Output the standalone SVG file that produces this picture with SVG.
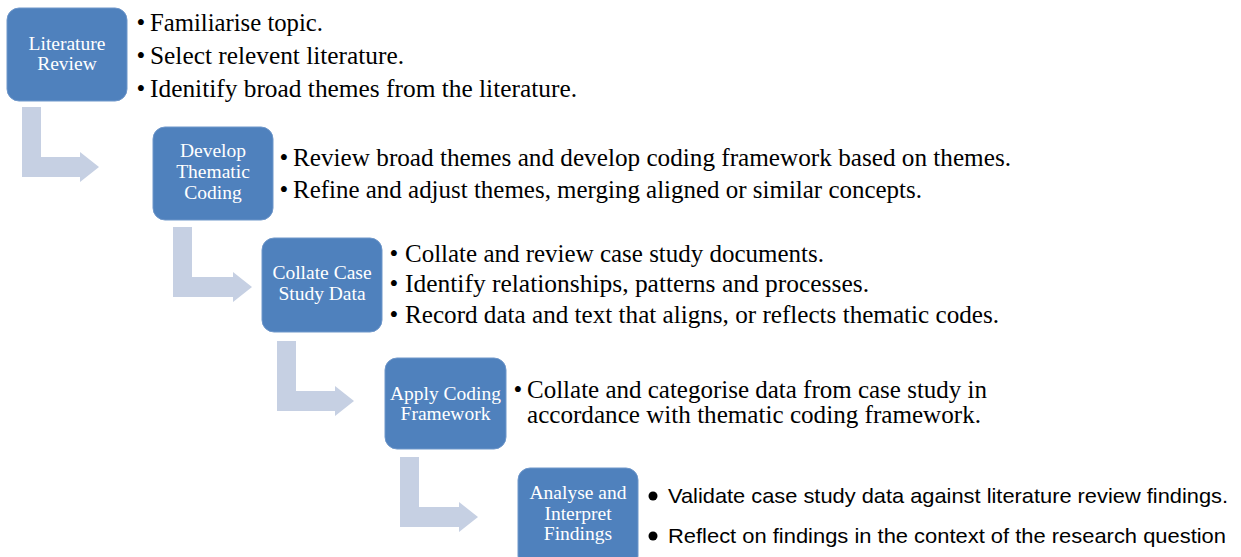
<svg xmlns="http://www.w3.org/2000/svg" width="1241" height="557" viewBox="0 0 1241 557">
  <style>
    .box { fill: #4F81BD; stroke: #6F97CA; stroke-width: 1; }
    .lbl { font-family: "Liberation Serif", "DejaVu Serif", serif; font-size: 19.5px; fill: #FFFFFF; text-anchor: middle; }
    .body { font-family: "Liberation Serif", "DejaVu Serif", serif; font-size: 25px; fill: #000000; }
    .bul { font-family: "Liberation Serif", "DejaVu Serif", serif; font-size: 25px; fill: #000000; text-anchor: middle; }
    .sans { font-family: "Liberation Sans", Arial, sans-serif; font-size: 21px; fill: #000000; }
    .arrow { fill: #C6D0E3; }
  </style>
  <rect width="1241" height="557" fill="#FFFFFF"/>

  <!-- bent arrows linking each step to the next -->
  <g id="connectors">
    <path class="arrow" d="M22,107 H41 V157 H80 V152 L99,167 L80,182 V177 H22 Z"/>
    <path class="arrow" d="M173,227 H192 V277 H233 V272 L252,287 L233,302 V297 H173 Z"/>
    <path class="arrow" d="M277,341 H296 V391 H335 V386 L354,401 L335,416 V411 H277 Z"/>
    <path class="arrow" d="M400,457 H419 V507 H459 V502 L478,517 L459,532 V527 H400 Z"/>
  </g>

  <g id="step-literature-review">
    <rect class="box" x="7" y="8" width="120" height="93" rx="12"/>
    <text class="lbl" x="67" y="50">Literature</text>
    <text class="lbl" x="67" y="70">Review</text>
    <text class="bul" x="141" y="31">•</text>
    <text class="body" x="150" y="31" textLength="173" lengthAdjust="spacingAndGlyphs">Familiarise topic.</text>
    <text class="bul" x="141" y="64">•</text>
    <text class="body" x="150" y="64" textLength="254" lengthAdjust="spacingAndGlyphs">Select relevent literature.</text>
    <text class="bul" x="141" y="97">•</text>
    <text class="body" x="150" y="97" textLength="427" lengthAdjust="spacingAndGlyphs">Idenitify broad themes from the literature.</text>
  </g>

  <g id="step-thematic-coding">
    <rect class="box" x="153" y="127" width="120" height="93" rx="12"/>
    <text class="lbl" x="213" y="157">Develop</text>
    <text class="lbl" x="213" y="178">Thematic</text>
    <text class="lbl" x="213" y="199">Coding</text>
    <text class="bul" x="284" y="166">•</text>
    <text class="body" x="293" y="166" textLength="718" lengthAdjust="spacingAndGlyphs">Review broad themes and develop coding framework based on themes.</text>
    <text class="bul" x="284" y="198">•</text>
    <text class="body" x="293" y="198" textLength="629" lengthAdjust="spacingAndGlyphs">Refine and adjust themes, merging aligned or similar concepts.</text>
  </g>

  <g id="step-collate-data">
    <rect class="box" x="262" y="238" width="120" height="94" rx="12"/>
    <text class="lbl" x="322" y="279">Collate Case</text>
    <text class="lbl" x="322" y="300">Study Data</text>
    <text class="bul" x="394" y="262">•</text>
    <text class="body" x="405" y="262" textLength="419" lengthAdjust="spacingAndGlyphs">Collate and review case study documents.</text>
    <text class="bul" x="394" y="292">•</text>
    <text class="body" x="405" y="292" textLength="464" lengthAdjust="spacingAndGlyphs">Identify relationships, patterns and processes.</text>
    <text class="bul" x="394" y="323">•</text>
    <text class="body" x="405" y="323" textLength="594" lengthAdjust="spacingAndGlyphs">Record data and text that aligns, or reflects thematic codes.</text>
  </g>

  <g id="step-apply-framework">
    <rect class="box" x="385" y="358" width="121" height="91" rx="12"/>
    <text class="lbl" x="445.5" y="400">Apply Coding</text>
    <text class="lbl" x="445.5" y="420">Framework</text>
    <text class="bul" x="518" y="398">•</text>
    <text class="body" x="527" y="398" textLength="460" lengthAdjust="spacingAndGlyphs">Collate and categorise data from case study in</text>
    <text class="body" x="527" y="423" textLength="454" lengthAdjust="spacingAndGlyphs">accordance with thematic coding framework.</text>
  </g>

  <g id="step-analyse-findings">
    <rect class="box" x="518" y="468" width="120" height="100" rx="12"/>
    <text class="lbl" x="578" y="499">Analyse and</text>
    <text class="lbl" x="578" y="520">Interpret</text>
    <text class="lbl" x="578" y="540">Findings</text>
    <circle cx="653" cy="496" r="4.5" fill="#000000"/>
    <text class="sans" x="668" y="503" textLength="560" lengthAdjust="spacingAndGlyphs">Validate case study data against literature review findings.</text>
    <circle cx="653" cy="536" r="4.5" fill="#000000"/>
    <text class="sans" x="668" y="543" textLength="558" lengthAdjust="spacingAndGlyphs">Reflect on findings in the context of the research question</text>
  </g>
</svg>
